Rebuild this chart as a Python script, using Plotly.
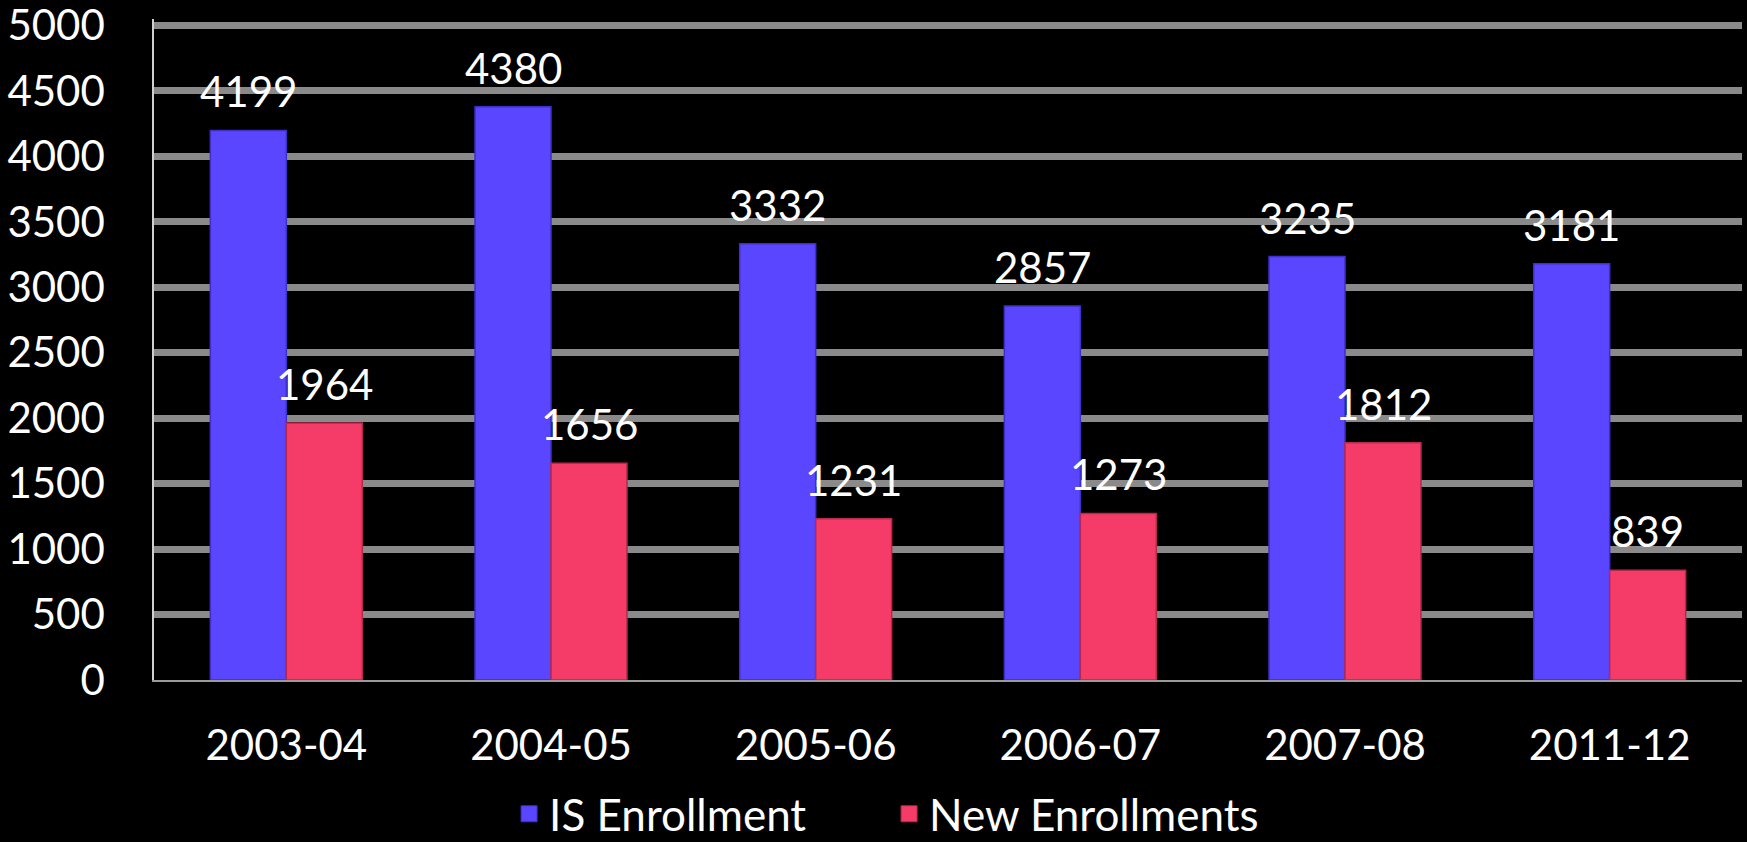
import plotly.graph_objects as go

# School-year categories and enrollment counts
years = ["2003-04", "2004-05", "2005-06", "2006-07", "2007-08", "2011-12"]
is_enrollment = [4199, 4380, 3332, 2857, 3235, 3181]
new_enrollments = [1964, 1656, 1231, 1273, 1812, 839]
y_ticks = [0, 500, 1000, 1500, 2000, 2500, 3000, 3500, 4000, 4500, 5000]

FONT = "Lato"
TEXT_SIZE = 42
BLUE = "#5A46FF"
RED = "#F53C69"

fig = go.Figure()
fig.add_trace(go.Bar(
    name="IS Enrollment", x=years, y=is_enrollment, showlegend=False,
    marker=dict(color=BLUE, line=dict(color="#3F2FC8", width=1.5)),
))
fig.add_trace(go.Bar(
    name="New Enrollments", x=years, y=new_enrollments, showlegend=False,
    marker=dict(color=RED, line=dict(color="#B8284E", width=1.5)),
))

# Legend entries with larger square swatches
for name, color, edge in (("IS Enrollment", BLUE, "#3F2FC8"),
                          ("New Enrollments", RED, "#B8284E")):
    fig.add_trace(go.Scatter(
        name=name, x=[None], y=[None], mode="markers",
        marker=dict(symbol="square", size=26, color=color,
                    line=dict(color=edge, width=1)),
    ))

# Value labels floating above each bar
for series, shift in ((is_enrollment, -38), (new_enrollments, 38)):
    for cat, val in zip(years, series):
        fig.add_annotation(
            x=cat, y=val, text=str(val), showarrow=False,
            xshift=shift, yshift=12, yanchor="bottom",
            font=dict(family=FONT, size=TEXT_SIZE, color="white"),
        )

fig.update_layout(
    width=1747, height=842,
    paper_bgcolor="black", plot_bgcolor="black",
    margin=dict(l=154, r=5, t=19, b=162, autoexpand=False),
    barmode="group", bargap=0.426, bargroupgap=0,
    font=dict(family=FONT, size=TEXT_SIZE, color="white"),
    showlegend=True,
    legend=dict(
        orientation="h", xref="container", yref="paper",
        x=0.2914, xanchor="left", y=-0.203, yanchor="middle",
        font=dict(family=FONT, size=44, color="white"),
        bgcolor="rgba(0,0,0,0)", itemsizing="trace",
        traceorder="normal", itemwidth=30,
        entrywidth=335, entrywidthmode="pixels",
    ),
)

fig.update_xaxes(
    type="category", automargin=False,
    showgrid=False, showline=True, linecolor="#9a9a9a", linewidth=2,
    ticks="", ticklabelstandoff=28,
    tickfont=dict(family=FONT, size=TEXT_SIZE, color="white"),
)
fig.update_yaxes(
    range=[0, 5050], tickvals=y_ticks, ticktext=[str(v) for v in y_ticks],
    automargin=False, ticklabeloverflow="allow",
    showgrid=True, gridcolor="#8a8a8a", gridwidth=7,
    zeroline=False, showline=True, linecolor="#d0d0d0", linewidth=1.5,
    ticks="", ticklabelstandoff=39,
    tickfont=dict(family=FONT, size=TEXT_SIZE, color="white"),
)

fig.write_html("out.html")
